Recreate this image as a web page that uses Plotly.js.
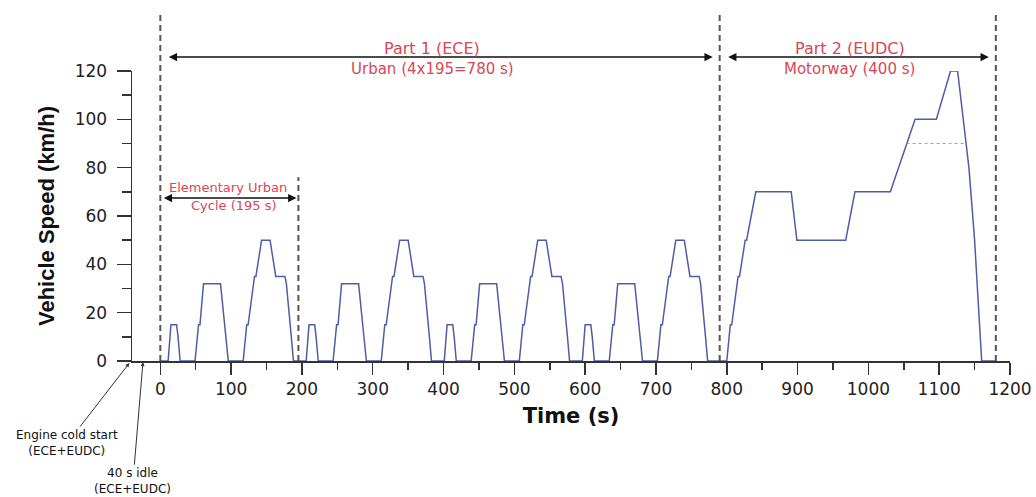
<!DOCTYPE html>
<html>
<head>
<meta charset="utf-8">
<script src="https://cdn.plot.ly/plotly-3.0.1.min.js"></script>
<style>html,body{margin:0;padding:0;background:#fff;}#chart{width:1036px;height:497px;}</style>
</head>
<body>
<div id="chart"></div>
<script>
// ---- Data (NEDC speed profile) ----
// Part 1: four ECE urban cycles (time in s, speed in km/h)
var eceTime = [
  0, 11, 15, 23, 25, 28, 49, 54, 56, 61, 85, 93, 96, 117, 122, 124, 133, 135, 143, 155, 163, 176, 178, 185, 188, 195,
  206, 210, 218, 220, 223, 244, 249, 251, 256, 280, 288, 291, 312, 317, 319, 328, 330, 338, 350, 358, 371, 373, 380, 383, 390,
  401, 405, 413, 415, 418, 439, 444, 446, 451, 475, 483, 486, 507, 512, 514, 523, 525, 533, 545, 553, 566, 568, 575, 578, 585,
  596, 600, 608, 610, 613, 634, 639, 641, 646, 670, 678, 681, 702, 707, 709, 718, 720, 728, 740, 748, 761, 763, 770, 773, 780
];
var eceSpeed = [
  0, 0, 15, 15, 10, 0, 0, 15, 15, 32, 32, 10, 0, 0, 15, 15, 35, 35, 50, 50, 35, 35, 32, 10, 0, 0,
  0, 15, 15, 10, 0, 0, 15, 15, 32, 32, 10, 0, 0, 15, 15, 35, 35, 50, 50, 35, 35, 32, 10, 0, 0,
  0, 15, 15, 10, 0, 0, 15, 15, 32, 32, 10, 0, 0, 15, 15, 35, 35, 50, 50, 35, 35, 32, 10, 0, 0,
  0, 15, 15, 10, 0, 0, 15, 15, 32, 32, 10, 0, 0, 15, 15, 35, 35, 50, 50, 35, 35, 32, 10, 0, 0
];
// Part 2: EUDC motorway cycle
var eudcTime  = [780, 800, 805, 807, 816, 818, 826, 828, 841, 891, 899, 968, 981, 1031, 1066, 1096, 1116, 1126, 1142, 1150, 1160, 1180];
var eudcSpeed = [0,   0,   15,  15,  35,  35,  50,  50,  70,  70,  50,  50,  70,  70,   100,  100,  120,  120,  80,   50,   0,    0];
// Low-powered vehicle alternative (90 km/h cap)
var altTime  = [1054, 1138];
var altSpeed = [90, 90];

// Axis ticks
var xTickVals = [0, 100, 200, 300, 400, 500, 600, 700, 800, 900, 1000, 1100, 1200];
var xTickText = ['0', '100', '200', '300', '400', '500', '600', '700', '800', '900', '1000', '1100', '1200'];
var yTickVals = [0, 20, 40, 60, 80, 100, 120];
var yTickText = ['0', '20', '40', '60', '80', '100', '120'];

// Phase boundaries (s)
var partBounds = [0, 790, 1180];
var eucBounds = [0, 195];

// ---- Styling ----
var lineBlue = '#4d5da8';
var axisCol = '#333333';
var redText = '#da4654';
var dashCol = '#555555';
var font = 'DejaVu Sans, sans-serif';

var traces = [
  {x: eceTime, y: eceSpeed, mode: 'lines', line: {color: lineBlue, width: 1.5}, hoverinfo: 'skip', showlegend: false},
  {x: eudcTime, y: eudcSpeed, mode: 'lines', line: {color: lineBlue, width: 1.5}, hoverinfo: 'skip', showlegend: false},
  {x: altTime, y: altSpeed, mode: 'lines', line: {color: '#7fa8e2', width: 1.2, dash: 'dot'}, hoverinfo: 'skip', showlegend: false}
];

var shapes = [];
partBounds.forEach(function (b) {
  shapes.push({type: 'line', xref: 'x', yref: 'paper', x0: b, x1: b, y0: 0, y1: 1.2,
    line: {color: dashCol, width: 2, dash: '6px,4px'}});
});
shapes.push({type: 'line', xref: 'x', yref: 'y', x0: eucBounds[1], x1: eucBounds[1], y0: 0, y1: 76,
  line: {color: dashCol, width: 2, dash: '6px,4px'}});

function dblArrow(xa, xb, yv, yref, so) {
  return {x: xb, y: yv, xref: 'x', yref: yref, ax: xa, ay: 0, axref: 'x', ayref: 'pixel',
    text: '', showarrow: true, arrowside: 'end+start', arrowhead: 2, startarrowhead: 2,
    arrowsize: 1.1, startarrowsize: 1.1, arrowwidth: 1.5, arrowcolor: '#111',
    standoff: so, startstandoff: so};
}
function label(txt, xv, yv, yref, size) {
  return {x: xv, y: yv, xref: 'x', yref: yref, text: txt, showarrow: false,
    font: {family: font, size: size, color: redText}, xanchor: 'center', yanchor: 'middle'};
}

var annotations = [
  dblArrow(partBounds[0], partBounds[1], 1.048, 'paper', 7),
  dblArrow(partBounds[1], partBounds[2], 1.048, 'paper', 7),
  dblArrow(eucBounds[0], eucBounds[1], 67.4, 'y', 2),
  label('Part 1 (ECE)', 384, 1.079, 'paper', 16),
  label('Urban (4x195=780 s)', 385, 1.007, 'paper', 15),
  label('Part 2 (EUDC)', 974, 1.079, 'paper', 16),
  label('Motorway (400 s)', 974, 1.007, 'paper', 15),
  label('Elementary Urban', 96, 71.6, 'y', 13),
  label('Cycle (195 s)', 104, 64.5, 'y', 13),
  {x: -0.003, y: -0.007, xref: 'paper', yref: 'paper', ax: -62, ay: 80, axref: 'pixel', ayref: 'pixel',
    text: 'Engine cold start<br>(ECE+EUDC)', showarrow: true, arrowhead: 2, arrowsize: 0.8, arrowwidth: 1,
    arrowcolor: '#333', font: {family: font, size: 12, color: '#111'}, standoff: 0},
  {x: 0.0125, y: -0.004, xref: 'paper', yref: 'paper', ax: -10, ay: 119, axref: 'pixel', ayref: 'pixel',
    text: '40 s idle<br>(ECE+EUDC)', showarrow: true, arrowhead: 2, arrowsize: 0.8, arrowwidth: 1,
    arrowcolor: '#333', font: {family: font, size: 12, color: '#111'}, standoff: 0}
];

var layout = {
  width: 1036, height: 497,
  margin: {l: 132, r: 26, t: 71, b: 136, pad: 0},
  paper_bgcolor: '#ffffff', plot_bgcolor: '#ffffff',
  font: {family: font, color: '#222'},
  showlegend: false,
  xaxis: {
    range: [-40, 1200], showgrid: false, zeroline: false,
    showline: true, linecolor: axisCol, linewidth: 1.5, layer: 'above traces',
    tickmode: 'array', tickvals: xTickVals, ticktext: xTickText,
    ticks: 'outside', ticklen: 12, tickwidth: 1.5, tickcolor: axisCol,
    minor: {dtick: 50, ticks: 'outside', ticklen: 7, tickwidth: 1.5, tickcolor: axisCol, showgrid: false},
    tickfont: {family: font, size: 17, color: '#222'},
    title: {text: 'Time (s)', font: {family: font, size: 21, color: '#111', weight: 'bold'}, standoff: 10},
    automargin: false, fixedrange: true
  },
  yaxis: {
    range: [0, 120], showgrid: false, zeroline: false,
    showline: true, linecolor: axisCol, linewidth: 1.5,
    tickmode: 'array', tickvals: yTickVals, ticktext: yTickText,
    ticks: 'outside', ticklen: 14, tickwidth: 1.5, tickcolor: axisCol,
    minor: {dtick: 10, ticks: 'outside', ticklen: 9, tickwidth: 1.5, tickcolor: axisCol, showgrid: false},
    tickfont: {family: font, size: 17, color: '#222'},
    ticklabelstandoff: 6,
    title: {text: 'Vehicle Speed (km/h)', font: {family: 'Liberation Sans, Arial, sans-serif', size: 22, color: '#111', weight: 'bold'}, standoff: 14},
    automargin: false, fixedrange: true
  },
  shapes: shapes,
  annotations: annotations
};

Plotly.newPlot('chart', traces, layout, {displayModeBar: false, staticPlot: true});
</script>
</body>
</html>
